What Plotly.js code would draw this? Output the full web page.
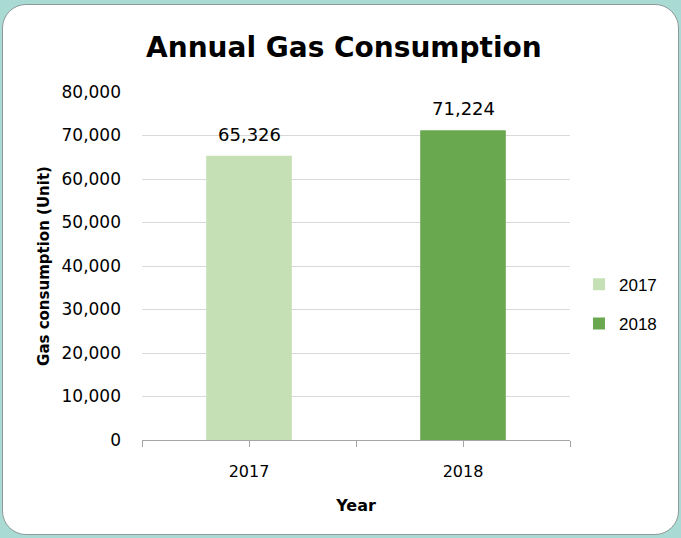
<!DOCTYPE html>
<html>
<head>
<meta charset="utf-8">
<script src="https://cdn.plot.ly/plotly-3.0.1.min.js"></script>
<style>
  html, body { margin: 0; padding: 0; width: 681px; height: 538px; background: #a9dad3; overflow: hidden; }
  #card { position: absolute; left: 2px; top: 4px; width: 675px; height: 529px; background: #ffffff; border: 1px solid #8f9a98; border-radius: 24px; }
  #chart { position: absolute; left: 0; top: 0; width: 681px; height: 538px; }
</style>
</head>
<body>
<div id="card"></div>
<div id="chart"></div>
<script>
const categories = ["2017", "2018"];
const values = [65326, 71224];
const colors = ["#c5e0b4", "#6aa84f"];
const yTickVals = [0, 10000, 20000, 30000, 40000, 50000, 60000, 70000, 80000];
const yTickText = ["0", "10,000", "20,000", "30,000", "40,000", "50,000", "60,000", "70,000", "80,000"];

const positions = categories.map((c, i) => i);

const traces = categories.map((c, i) => ({
  type: "bar",
  name: c,
  x: [positions[i]],
  y: [values[i]],
  width: 0.4,
  marker: { color: colors[i] },
  legendgroup: "g" + i,
  hoverinfo: "skip"
}));

const fmt = v => v.toLocaleString("en-US");

const annotations = categories.map((c, i) => ({
  x: positions[i],
  y: values[i],
  xref: "x",
  yref: "y",
  text: fmt(values[i]),
  showarrow: false,
  yanchor: "bottom",
  yshift: 9,
  font: { family: "DejaVu Sans", size: 18, color: "#000000" }
}));

const layout = {
  width: 681,
  height: 538,
  paper_bgcolor: "rgba(0,0,0,0)",
  plot_bgcolor: "rgba(0,0,0,0)",
  margin: { l: 142, r: 111, t: 92, b: 98, autoexpand: false },
  barmode: "overlay",
  title: {
    text: "<b>Annual Gas Consumption</b>",
    font: { family: "DejaVu Sans", size: 28, color: "#000000" },
    x: 0.505,
    xanchor: "center",
    y: 0.913,
    yanchor: "middle"
  },
  xaxis: {
    range: [-0.5, 1.5],
    tickmode: "array",
    tickvals: positions,
    ticktext: categories,
    ticks: "outside",
    ticklen: 6,
    tickcolor: "#a6a6a6",
    showline: true,
    linecolor: "#a6a6a6",
    linewidth: 1,
    showgrid: false,
    zeroline: false,
    automargin: false,
    ticklabelstandoff: 11,
    tickfont: { family: "DejaVu Sans", size: 16, color: "#000000" },
    minor: {
      tickmode: "array",
      tickvals: [-0.5, 0.5, 1.5],
      ticks: "outside",
      ticklen: 6,
      tickcolor: "#a6a6a6",
      showgrid: false
    },
    title: {
      text: "<b>Year</b>",
      font: { family: "DejaVu Sans", size: 16, color: "#000000" },
      standoff: 19
    }
  },
  yaxis: {
    range: [0, 80000],
    tickmode: "array",
    tickvals: yTickVals,
    ticktext: yTickText,
    showgrid: true,
    gridcolor: "#d9d9d9",
    gridwidth: 1,
    zeroline: false,
    showline: false,
    ticks: "",
    automargin: false,
    ticklabelstandoff: 20,
    tickfont: { family: "DejaVu Sans", size: 17, color: "#000000" },
    title: {
      text: "<b>Gas consumption (Unit)</b>",
      font: { family: "DejaVu Sans", size: 15, color: "#000000" },
      standoff: 8
    }
  },
  legend: {
    x: 1.021,
    y: 0.39,
    xanchor: "left",
    yanchor: "middle",
    font: { family: "Liberation Sans", size: 17, color: "#000000" },
    tracegroupgap: 14,
    itemwidth: 30,
    bgcolor: "rgba(0,0,0,0)"
  },
  showlegend: true,
  annotations: annotations
};

Plotly.newPlot("chart", traces, layout, { displayModeBar: false, staticPlot: true });
</script>
</body>
</html>
